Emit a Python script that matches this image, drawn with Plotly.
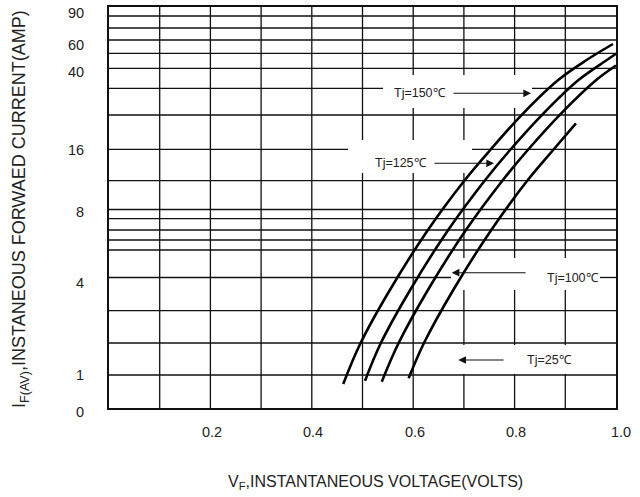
import plotly.graph_objects as go

# ---------------- data (x: volts, y: chart height units above the bottom axis) ----------------
vf_150 = [0.462, 0.496, 0.554, 0.629, 0.702, 0.752, 0.817, 0.886, 0.942, 0.994]
h_150 = [24, 64.7, 118, 178, 228, 258, 294.7, 328, 348, 364]

vf_125 = [0.505, 0.536, 0.594, 0.669, 0.742, 0.791, 0.857, 0.926, 0.982, 1.0]
h_125 = [27.3, 64.7, 118, 178, 228, 258, 294.7, 328, 348, 354.3]

vf_100 = [0.538, 0.571, 0.629, 0.704, 0.777, 0.826, 0.892, 0.961, 1.0]
h_100 = [26.3, 64.7, 118, 178, 228, 258, 294.7, 328, 342.5]

vf_25 = [0.591, 0.621, 0.679, 0.754, 0.826, 0.876, 0.921]
h_25 = [29.7, 64.7, 118, 178, 228, 258, 284.7]

x_ticks = [0.2, 0.4, 0.6, 0.8, 1.0]
x_tick_text = ["0.2", "0.4", "0.6", "0.8", "1.0"]
y_tick_text = ["90", "60", "40", "16", "8", "4", "1", "0"]
y_tick_pos = [394.7, 363, 336.3, 258, 196.3, 124.7, 33, -3.7]

x_grid = [0.1, 0.2, 0.3, 0.4, 0.5, 0.6, 0.7, 0.8, 0.9]
y_grid = [392, 380, 368, 354.7, 339.7, 319.7, 293, 258.7, 227.3, 198.5,
          189.3, 178, 168, 158, 130.5, 97.3, 65, 33]

labels = ["Tj=150℃", "Tj=125℃", "Tj=100℃", "Tj=25℃"]

# ---------------- layout geometry ----------------
W, H = 640, 497
L, R, T, B = 109, 24, 7, 89
PW, PH = W - L - R, H - T - B   # 507 x 401
YTOP = PH

def px_x(px):
    return (px - L) / PW

def px_y(py):
    return (T + PH) - py

def paper_y(py):
    return ((T + PH) - py) / PH

FONT = "Liberation Sans, Arial, sans-serif"
LINE = "#111111"
TXT = "#222222"

fig = go.Figure()
curves = [(vf_150, h_150), (vf_125, h_125), (vf_100, h_100), (vf_25, h_25)]
for (xs, ys), name in zip(curves, labels):
    fig.add_trace(go.Scatter(x=xs, y=ys, mode="lines", name=name,
                             line=dict(color="black", width=2.6, shape="spline", smoothing=1.0),
                             showlegend=False, hoverinfo="skip"))

shapes = []
# vertical grid lines
for gx in x_grid:
    shapes.append(dict(type="line", xref="x", yref="y", x0=gx, x1=gx, y0=0, y1=YTOP,
                       line=dict(color=LINE, width=1.3), layer="below"))
# white label boxes covering the grid
boxes = [
    (px_x(383), px_x(532), px_y(108), px_y(75)),
    (px_x(348), px_x(472), px_y(173), px_y(140)),
    (px_x(451), px_x(600), px_y(290), px_y(258)),
    (px_x(420), px_x(600), px_y(374), px_y(345)),
]
for x0, x1, y0, y1 in boxes:
    shapes.append(dict(type="rect", xref="x", yref="y", x0=x0, x1=x1, y0=y0, y1=y1,
                       fillcolor="white", line=dict(width=0), layer="below"))
# horizontal grid lines (some interrupted by the label boxes)
gaps = {319.7: (px_x(383), px_x(532)), 258.7: (px_x(348), px_x(472)), 130.5: (px_x(451), px_x(600))}
for gy in y_grid:
    if gy in gaps:
        a, b = gaps[gy]
        segs = [(0, a), (b, 1)]
    else:
        segs = [(0, 1)]
    for s0, s1 in segs:
        shapes.append(dict(type="line", xref="x", yref="y", x0=s0, x1=s1, y0=gy, y1=gy,
                           line=dict(color=LINE, width=1.3), layer="below"))

ann = []
# temperature labels and arrows
lab_pos = [(420, 93.3), (401, 163.3), (573, 278.3), (549, 360)]
arrows = [((452, 93.3), (531, 93.3)), ((433, 163.3), (494, 163.3)),
          ((527, 272.7), (451.7, 272.7)), ((505, 360), (458.3, 360))]
for t, (lx, ly), ((ax0, ay0), (tx, ty)) in zip(labels, lab_pos, arrows):
    ann.append(dict(text=t, x=px_x(lx), y=px_y(ly), xref="x", yref="y", showarrow=False,
                    xanchor="center", yanchor="middle",
                    font=dict(family=FONT, size=12.5, color=TXT)))
    ann.append(dict(text="", x=px_x(tx), y=px_y(ty), ax=px_x(ax0), ay=px_y(ay0),
                    xref="x", yref="y", axref="x", ayref="y", showarrow=True,
                    arrowhead=2, arrowsize=1.4, arrowwidth=1.1, arrowcolor="#111", standoff=0))
# tick labels
x_label_shift = [2, 1, 2, 1, 5]
for v, t, s in zip(x_ticks, x_tick_text, x_label_shift):
    ann.append(dict(text=t, x=v, y=paper_y(432), xref="x", yref="paper", showarrow=False,
                    xanchor="center", yanchor="middle", xshift=s,
                    font=dict(family=FONT, size=14.5, color=TXT)))
for v, t in zip(y_tick_pos, y_tick_text):
    ann.append(dict(text=t, x=(86 - L) / PW, y=v / PH,
                    xref="paper", yref="paper", showarrow=False,
                    xanchor="right", yanchor="middle",
                    font=dict(family=FONT, size=14.5, color=TXT)))
# axis titles
ann.append(dict(text="V<sub>F</sub>,INSTANTANEOUS VOLTAGE(VOLTS)", x=px_x(375), y=paper_y(482),
                xref="x", yref="paper", showarrow=False, xanchor="center", yanchor="middle",
                font=dict(family=FONT, size=16, color=TXT)))
ann.append(dict(text="I<sub>F(AV)</sub>,INSTANEOUS FORWAED CURRENT(AMP)", x=(21 - L) / PW,
                y=paper_y(209), xref="paper", yref="paper", showarrow=False, textangle=-90,
                xanchor="center", yanchor="middle",
                font=dict(family=FONT, size=18, color=TXT)))

fig.update_layout(
    width=W, height=H,
    margin=dict(l=L, r=R, t=T, b=B, autoexpand=False),
    paper_bgcolor="white", plot_bgcolor="white",
    shapes=shapes, annotations=ann,
    xaxis=dict(range=[0, 1], showgrid=False, zeroline=False, showticklabels=False, ticks="",
               showline=True, mirror=True, linecolor="#111", linewidth=1.5, fixedrange=True),
    yaxis=dict(range=[0, YTOP], showgrid=False, zeroline=False, showticklabels=False, ticks="",
               showline=True, mirror=True, linecolor="#111", linewidth=1.5, fixedrange=True),
)

fig.write_html("out.html", config={"displayModeBar": False},
               post_script="document.body.style.margin='0';document.body.style.overflow='hidden';")
